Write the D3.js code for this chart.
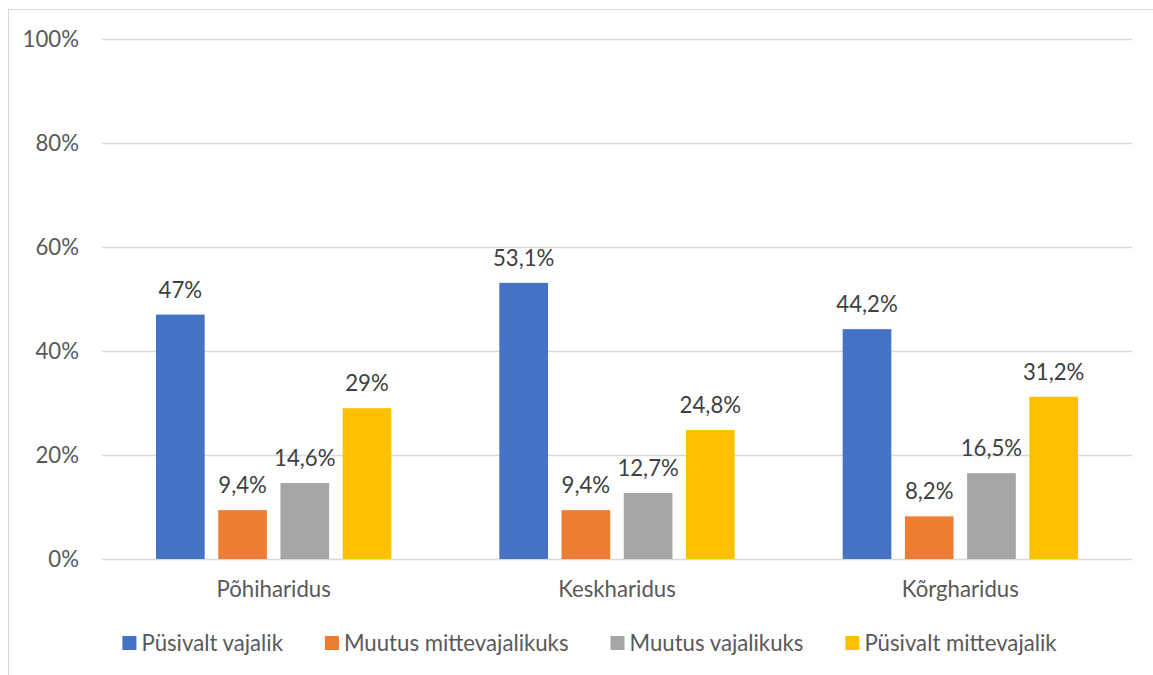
<!DOCTYPE html>
<html><head><meta charset="utf-8">
<script src="https://cdn.jsdelivr.net/npm/d3@7"></script>
<style>
html,body{margin:0;padding:0;background:#fff;}
svg{display:block;font-family:Lato,"Open Sans",sans-serif;}
</style></head>
<body>
<svg id="chart" width="1153" height="675"></svg>
<script>
const categories = ["Põhiharidus", "Keskharidus", "Kõrgharidus"];
const seriesNames = ["Püsivalt vajalik", "Muutus mittevajalikuks", "Muutus vajalikuks", "Püsivalt mittevajalik"];
const seriesColors = ["#4472C4", "#ED7D31", "#A5A5A5", "#FFC000"];
const pysivaltVajalik = [47, 53.1, 44.2];
const muutusMittevajalikuks = [9.4, 9.4, 8.2];
const muutusVajalikuks = [14.6, 12.7, 16.5];
const pysivaltMittevajalik = [29, 24.8, 31.2];
const yTicks = [0, 20, 40, 60, 80, 100];

const seriesValues = [pysivaltVajalik, muutusMittevajalikuks, muutusVajalikuks, pysivaltMittevajalik];

const svg = d3.select("#chart");
const pLeft = 102, pRight = 1132, pTop = 39, pBottom = 559;
const fs = 22.2;

// outer border
svg.append("rect").attr("x", 8.5).attr("y", 9.5).attr("width", 1160).attr("height", 700)
  .attr("fill", "none").attr("stroke", "#D9D9D9").attr("stroke-width", 1);

const y = d3.scaleLinear().domain([0, 100]).range([pBottom, pTop]);
const x0 = d3.scaleBand().domain(categories).range([pLeft, pRight]).paddingInner(0).paddingOuter(0);
const bw = x0.bandwidth();
const x1 = d3.scaleBand().domain(seriesNames).range([54, bw - 54]).paddingInner(0.218).paddingOuter(0);

// gridlines
svg.append("g").selectAll("line").data(yTicks).join("line")
  .attr("x1", pLeft).attr("x2", pRight)
  .attr("y1", d => Math.round(y(d)) + 0.5).attr("y2", d => Math.round(y(d)) + 0.5)
  .attr("stroke", "#D9D9D9").attr("stroke-width", 1.3);

// y axis labels
svg.append("g").selectAll("text").data(yTicks).join("text")
  .attr("x", 79).attr("y", d => y(d)).attr("dy", "0.36em")
  .attr("text-anchor", "end").attr("fill", "#595959").attr("font-size", fs)
  .text(d => d + "%");

const fmt = v => (Number.isInteger(v) ? String(v) : v.toFixed(1).replace(".", ",")) + "%";

// bars
const groups = svg.append("g").selectAll("g").data(categories).join("g")
  .attr("transform", d => `translate(${x0(d)},0)`);

seriesNames.forEach((s, si) => {
  groups.append("rect")
    .attr("x", x1(s)).attr("width", x1.bandwidth())
    .attr("y", (d, ci) => y(seriesValues[si][ci]))
    .attr("height", (d, ci) => y(0) - y(seriesValues[si][ci]))
    .attr("fill", seriesColors[si]);
  groups.append("text")
    .attr("x", x1(s) + x1.bandwidth() / 2)
    .attr("y", (d, ci) => y(seriesValues[si][ci]) - 17)
    .attr("text-anchor", "middle").attr("fill", "#404040").attr("font-size", fs)
    .text((d, ci) => fmt(seriesValues[si][ci]));
});

// category labels
svg.append("g").selectAll("text").data(categories).join("text")
  .attr("x", d => x0(d) + bw / 2).attr("y", 597)
  .attr("text-anchor", "middle").attr("fill", "#595959").attr("font-size", fs)
  .text(d => d);

// legend
const lg = svg.append("g");
const items = lg.selectAll("g").data(seriesNames).join("g");
items.append("rect").attr("width", 14).attr("height", 14).attr("y", 636)
  .attr("fill", (d, i) => seriesColors[i]);
items.append("text").attr("x", 19).attr("y", 651).attr("fill", "#595959").attr("font-size", fs)
  .text(d => d);
let widths = [];
items.each(function() { widths.push(d3.select(this).select("text").node().getComputedTextLength()); });
const gap = 42;
const total = widths.reduce((a, w) => a + 19 + w, 0) + gap * (widths.length - 1);
let cx = 589.5 - total / 2;
items.attr("transform", (d, i) => { const t = `translate(${cx},0)`; cx += 19 + widths[i] + gap; return t; });
</script>
</body></html>
